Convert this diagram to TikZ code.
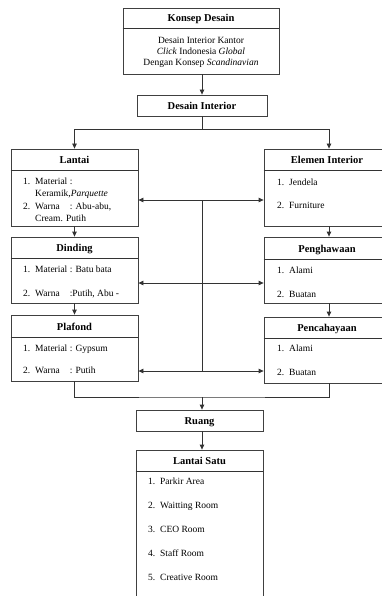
\documentclass[tikz,border=0pt]{standalone}
\usepackage{fontspec}
\setmainfont{Liberation Serif}
\usepackage{calc}
\usetikzlibrary{arrows.meta}
\newcommand\numit[2]{\makebox[12pt][l]{#1}#2}
\newcommand\wlab{\makebox[\widthof{Material}][l]{Warna}}
\begin{document}
\begin{tikzpicture}[x=1pt,y=-1pt,
  box/.style={draw=black!75, line width=0.8pt, inner sep=0pt},
  ttl/.style={font=\fontsize{10.5}{12}\selectfont\bfseries, inner sep=0pt, anchor=base},
  itm/.style={font=\fontsize{9.5}{11.5}\selectfont, anchor=base west, inner sep=0pt},
  ctr/.style={font=\fontsize{9.5}{11.5}\selectfont, anchor=base, inner sep=0pt},
  ln/.style={draw=black!80, line width=0.8pt},
  arr/.style={ln, -{Triangle[length=5pt,width=4.5pt]}},
  darr/.style={ln, {Triangle[length=5pt,width=4.5pt]}-{Triangle[length=5pt,width=4.5pt]}}]
\clip (0,0) rectangle (382,596);
\fill[white] (0,0) rectangle (382,596);

% ---------- boxes ----------
\node[box, minimum width=156pt, minimum height=66pt] (konsep) at (201,41) {};
\node[box, minimum width=130pt, minimum height=21pt] (desain) at (202,105.5) {};
\node[box, minimum width=127pt, minimum height=77pt] (lantai) at (74.5,187.5) {};
\node[box, minimum width=127pt, minimum height=66pt] (dinding) at (74.5,270) {};
\node[box, minimum width=127pt, minimum height=66pt] (plafond) at (74.5,348) {};
\node[box, minimum width=130pt, minimum height=77pt] (elemen) at (329,187.5) {};
\node[box, minimum width=130pt, minimum height=66pt] (hawa) at (329,270) {};
\node[box, minimum width=130pt, minimum height=66pt] (cahaya) at (329,350) {};
\node[box, minimum width=127pt, minimum height=21pt] (ruang) at (199.5,420.5) {};
\node[box, minimum width=127pt, minimum height=170pt] (satu) at (199.5,535) {};

% ---------- dividers ----------
\draw[ln] (konsep.west |- 0,28) -- (konsep.east |- 0,28);
\draw[ln] (lantai.west |- 0,170) -- (lantai.east |- 0,170);
\draw[ln] (dinding.west |- 0,258) -- (dinding.east |- 0,258);
\draw[ln] (plafond.west |- 0,337) -- (plafond.east |- 0,337);
\draw[ln] (elemen.west |- 0,170) -- (elemen.east |- 0,170);
\draw[ln] (hawa.west |- 0,259) -- (hawa.east |- 0,259);
\draw[ln] (cahaya.west |- 0,338) -- (cahaya.east |- 0,338);
\draw[ln] (satu.west |- 0,471) -- (satu.east |- 0,471);

% ---------- titles ----------
\node[ttl] (tkonsep) at (201,22) {Konsep Desain};
\node[ttl] (tdesain) at (202,109.5) {Desain Interior};
\node[ttl] (tlantai) at (74.5,163.5) {Lantai};
\node[ttl] (tdinding) at (74.5,251.5) {Dinding};
\node[ttl] (tplafond) at (74.5,330) {Plafond};
\node[ttl] (telemen) at (327,163.5) {Elemen Interior};
\node[ttl] (thawa) at (327,252.5) {Penghawaan};
\node[ttl] (tcahaya) at (327,331.5) {Pencahayaan};
\node[ttl] (truang) at (199.5,424.5) {Ruang};
\node[ttl] (tsatu) at (199.5,464.5) {Lantai Satu};

% ---------- texts ----------
\node[ctr] (k1) at (201,44) {Desain Interior Kantor};
\node[ctr] (k2) at (201,55) {\textit{Click} Indonesia \textit{Global}};
\node[ctr] (k3) at (201,66) {Dengan Konsep \textit{Scandinavian}};

\node[itm] (l1) at (23,184.5) {\numit{1.}{Material :}};
\node[itm] (l2) at (35,196.5) {Keramik,\textit{Parquette}};
\node[itm] (l3) at (23,209.5) {\numit{2.}{\wlab\ : Abu-abu,}};
\node[itm] (l4) at (35,221.5) {Cream. Putih};

\node[itm] (d1) at (23,272.5) {\numit{1.}{Material : Batu bata}};
\node[itm] (d2) at (23,296.5) {\numit{2.}{\wlab\ :Putih, Abu -}};

\node[itm] (p1) at (23,351.5) {\numit{1.}{Material : Gypsum}};
\node[itm] (p2) at (23,373.5) {\numit{2.}{\wlab\ : Putih}};

\node[itm] (e1) at (277,185.5) {\numit{1.}{Jendela}};
\node[itm] (e2) at (277,208.5) {\numit{2.}{Furniture}};

\node[itm] (h1) at (277,273.5) {\numit{1.}{Alami}};
\node[itm] (h2) at (277,297.5) {\numit{2.}{Buatan}};

\node[itm] (c1) at (277,351.5) {\numit{1.}{Alami}};
\node[itm] (c2) at (277,375.5) {\numit{2.}{Buatan}};

\node[itm] (s1) at (148,484.5) {\numit{1.}{Parkir Area}};
\node[itm] (s2) at (148,508.5) {\numit{2.}{Waitting Room}};
\node[itm] (s3) at (148,532.5) {\numit{3.}{CEO Room}};
\node[itm] (s4) at (148,556.5) {\numit{4.}{Staff Room}};
\node[itm] (s5) at (148,580.5) {\numit{5.}{Creative Room}};

% ---------- connectors ----------
\coordinate (split) at (202,129);
\coordinate (hub1) at (202,200);
\coordinate (hub2) at (202,283);
\coordinate (hub3) at (202,371);
\coordinate (merge) at (202,397);

\draw[arr] (konsep.south -| split) -- (desain.north -| split);
\draw[ln] (desain.south -| split) -- (split);
\draw[arr] (split) -| (lantai.north);
\draw[arr] (split) -| (elemen.north);
\draw[arr] (lantai.south) -- (dinding.north);
\draw[arr] (dinding.south) -- (plafond.north);
\draw[arr] (elemen.south) -- (hawa.north);
\draw[arr] (hawa.south) -- (cahaya.north);

\draw[darr] (lantai.east |- hub1) -- (elemen.west |- hub1);
\draw[darr] (dinding.east |- hub2) -- (hawa.west |- hub2);
\draw[darr] (plafond.east |- hub3) -- (cahaya.west |- hub3);
\draw[ln] (hub1) -- (hub3);

\draw[ln] (plafond.south) |- (merge) -| (cahaya.south);
\draw[arr] (merge) -- (ruang.north -| merge);
\draw[arr] (ruang.south -| merge) -- (satu.north -| merge);
\end{tikzpicture}
\end{document}
